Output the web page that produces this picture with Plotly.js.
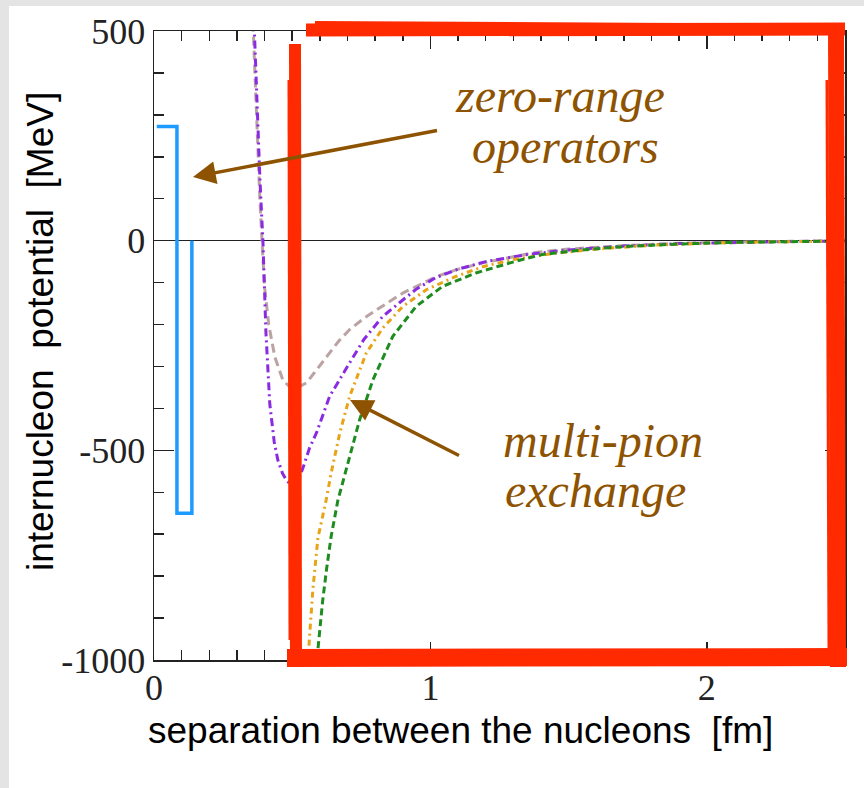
<!DOCTYPE html>
<html>
<head>
<meta charset="utf-8">
<script src="https://cdn.plot.ly/plotly-3.0.1.min.js"></script>
<style>html,body{margin:0;padding:0;background:#fff;}#chart{width:864px;height:788px;}</style>
</head>
<body>
<div id="chart"></div>
<script>
// ---- data ----
const xTickStep = 1, xMinorStep = 0.1;
const yTickStep = 500, yMinorStep = 100;
const yTickAlias = {'\u22121000': '-1000', '\u2212500': '-500'};

const blueX = [0.01, 0.083, 0.083, 0.137, 0.137];
const blueY = [272, 272, -650, -650, 0];

const purpleX = [0.362, 0.372, 0.383, 0.394, 0.405, 0.419, 0.435, 0.448, 0.465, 0.48, 0.50, 0.52, 0.54, 0.563, 0.588, 0.635, 0.67, 0.708, 0.76, 0.827, 0.888, 0.95, 1.02, 1.1, 1.2, 1.35, 1.5, 1.7, 1.9, 2.1, 2.3, 2.5];
const purpleY = [520, 330, 150, 0, -220, -390, -480, -523, -555, -572, -585, -575, -540, -494, -458, -372, -332, -291, -235, -181, -148, -115, -88, -68, -50, -33, -22, -13, -7, -4, -2, -1];

const greyX = [0.358, 0.37, 0.383, 0.394, 0.40, 0.415, 0.437, 0.466, 0.49, 0.52, 0.552, 0.58, 0.624, 0.67, 0.708, 0.76, 0.805, 0.9, 1.02, 1.1, 1.19, 1.37, 1.5, 1.7, 1.9, 2.1, 2.3, 2.5];
const greyY = [520, 300, 100, -40, -110, -200, -277, -332, -348, -350, -339, -315, -277, -238, -212, -185, -165, -125, -86, -68, -53, -29, -20, -12, -6, -3, -1.5, -0.5];

const orangeX = [0.552, 0.562, 0.575, 0.593, 0.623, 0.641, 0.672, 0.708, 0.768, 0.828, 0.9, 0.985, 1.09, 1.19, 1.3, 1.45, 1.6, 1.8, 2.0, 2.2, 2.5];
const orangeY = [-1080, -950, -830, -709, -618, -554, -459, -371, -268, -208, -157, -117, -86, -62, -45, -30, -20, -11, -6, -3, -1];

const greenX = [0.582, 0.595, 0.61, 0.625, 0.641, 0.665, 0.696, 0.744, 0.792, 0.864, 0.948, 1.044, 1.165, 1.309, 1.405, 1.55, 1.7, 1.9, 2.1, 2.3, 2.5];
const greenY = [-1050, -960, -860, -780, -705, -620, -546, -427, -332, -228, -157, -109, -77, -49, -33, -22, -14, -8, -4, -2, -1];

const labelLines = ['zero-range', 'operators', 'multi-pion', 'exchange'];
const xTitle = 'separation between the nucleons  [fm]';
const yTitle = 'internucleon  potential  [MeV]';

// ---- chart ----
const W = 864, H = 788, L = 154, R = 19, T = 31, B = 128;
const pw = W - L - R, ph = H - T - B;
const px = v => (v - L) / pw;
const py = v => 1 - (v - T) / ph;

const traces = [
  {x: blueX, y: blueY, mode: 'lines', line: {color: '#1e9bff', width: 3.5}, hoverinfo: 'skip'},
  {x: greyX, y: greyY, mode: 'lines', line: {color: '#bba3a3', width: 3, dash: '9px,5px'}, hoverinfo: 'skip'},
  {x: purpleX, y: purpleY, mode: 'lines', line: {color: '#8a2be2', width: 3, dash: '8px,4px,2px,4px'}, hoverinfo: 'skip'},
  {x: orangeX, y: orangeY, mode: 'lines', line: {color: '#e8a317', width: 3, dash: '6px,4px,2px,4px'}, hoverinfo: 'skip'},
  {x: greenX, y: greenY, mode: 'lines', line: {color: '#1e8c1e', width: 3, dash: '7px,4px'}, hoverinfo: 'skip'}
];

const red = '#ff2a00';
const shapes = [
  {type: 'rect', xref: 'paper', yref: 'paper', x0: px(0), x1: px(9), y0: py(788), y1: py(0), line: {width: 0}, fillcolor: '#e4e4e4', layer: 'below'},
  {type: 'rect', xref: 'paper', yref: 'paper', x0: px(0), x1: px(864), y0: py(6), y1: py(0), line: {width: 0}, fillcolor: '#e4e4e4', layer: 'below'},
  {type: 'line', xref: 'paper', yref: 'paper', x0: px(306), x1: px(845), y0: py(30), y1: py(29), line: {color: red, width: 13}},
  {type: 'line', xref: 'paper', yref: 'paper', x0: px(315), x1: px(838), y0: py(23), y1: py(26), line: {color: red, width: 4}},
  {type: 'line', xref: 'paper', yref: 'paper', x0: px(836), x1: px(838), y0: py(24), y1: py(667), line: {color: red, width: 16}},
  {type: 'line', xref: 'paper', yref: 'paper', x0: px(827), x1: px(829), y0: py(80), y1: py(650), line: {color: red, width: 3}},
  {type: 'line', xref: 'paper', yref: 'paper', x0: px(287), x1: px(847), y0: py(658), y1: py(657), line: {color: red, width: 18}},
  {type: 'line', xref: 'paper', yref: 'paper', x0: px(295), x1: px(296), y0: py(44), y1: py(664), line: {color: red, width: 12}},
  {type: 'line', xref: 'paper', yref: 'paper', x0: px(289), x1: px(290), y0: py(80), y1: py(640), line: {color: red, width: 3}}
];

const brown = '#8e5300';
const tfont = {family: 'Liberation Serif, Times New Roman, serif', size: 48, color: brown};
const titleFont = {family: 'Liberation Sans, Arial, sans-serif', size: 37, color: '#000'};
const annotations = [
  {xref: 'paper', yref: 'paper', x: px(560), y: py(95), text: '<i>' + labelLines[0] + '</i>', showarrow: false, font: tfont, xanchor: 'center', yanchor: 'middle'},
  {xref: 'paper', yref: 'paper', x: px(565), y: py(147), text: '<i>' + labelLines[1] + '</i>', showarrow: false, font: tfont, xanchor: 'center', yanchor: 'middle'},
  {xref: 'paper', yref: 'paper', x: px(603), y: py(440), text: '<i>' + labelLines[2] + '</i>', showarrow: false, font: tfont, xanchor: 'center', yanchor: 'middle'},
  {xref: 'paper', yref: 'paper', x: px(595), y: py(490), text: '<i>' + labelLines[3] + '</i>', showarrow: false, font: tfont, xanchor: 'center', yanchor: 'middle'},
  {xref: 'paper', yref: 'paper', x: px(193), y: py(177), ax: 247, ay: -47, text: ' ', showarrow: true, arrowhead: 2, arrowsize: 1.3, arrowwidth: 3.5, arrowcolor: brown, standoff: 0, startstandoff: 0},
  {xref: 'paper', yref: 'paper', x: px(350), y: py(400), ax: 112, ay: 57, text: ' ', showarrow: true, arrowhead: 2, arrowsize: 1.3, arrowwidth: 3.5, arrowcolor: brown, standoff: 0, startstandoff: 0},
  {xref: 'paper', yref: 'paper', x: px(460), y: py(731), text: xTitle, showarrow: false, font: titleFont, xanchor: 'center', yanchor: 'middle'},
  {xref: 'paper', yref: 'paper', x: px(40), y: py(332), text: yTitle, showarrow: false, font: titleFont, textangle: -90, xanchor: 'center', yanchor: 'middle'}
];

const tickFont = {family: 'Liberation Serif, Times New Roman, serif', size: 36, color: '#222'};

const layout = {
  width: W, height: H,
  margin: {l: L, r: R, t: T, b: B, pad: 0},
  paper_bgcolor: '#ffffff', plot_bgcolor: '#ffffff',
  showlegend: false,
  xaxis: {
    range: [0, 2.5], tickmode: 'linear', tick0: 0, dtick: xTickStep,
    ticks: 'inside', ticklen: 18, tickwidth: 1.5, tickcolor: '#222', ticklabelstandoff: -5,
    minor: {tickmode: 'linear', tick0: 0, dtick: xMinorStep, ticks: 'inside', ticklen: 10, tickwidth: 1.5, tickcolor: '#222', showgrid: false},
    showline: true, linecolor: '#222', linewidth: 1.5, mirror: 'ticks',
    showgrid: false, zeroline: false, tickfont: tickFont
  },
  yaxis: {
    range: [-1000, 500], tickmode: 'linear', tick0: 0, dtick: yTickStep, labelalias: yTickAlias,
    ticks: 'inside', ticklen: 20, tickwidth: 1.5, tickcolor: '#222',
    minor: {tickmode: 'linear', tick0: 0, dtick: yMinorStep, ticks: 'inside', ticklen: 10, tickwidth: 1.5, tickcolor: '#222', showgrid: false},
    showline: true, linecolor: '#222', linewidth: 1.5, mirror: 'ticks',
    showgrid: false, zeroline: true, zerolinecolor: '#222', zerolinewidth: 1.2,
    tickfont: tickFont
  },
  shapes: shapes,
  annotations: annotations
};

Plotly.newPlot('chart', traces, layout, {displayModeBar: false, staticPlot: true});
</script>
</body>
</html>
